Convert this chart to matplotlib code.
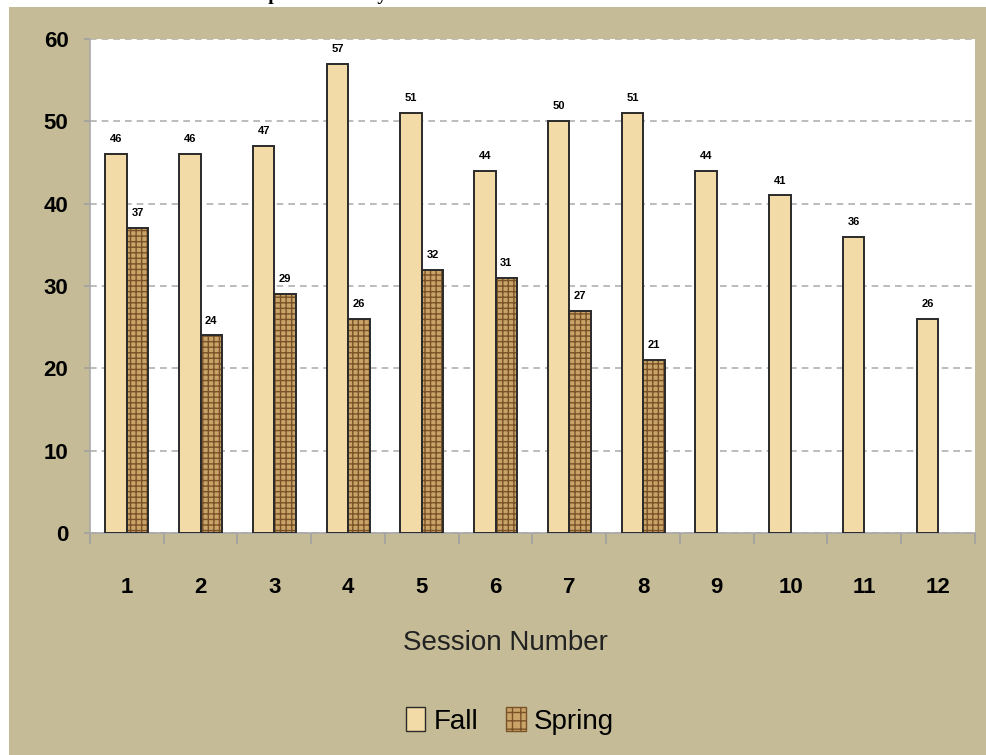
import matplotlib.pyplot as plt
import numpy as np
from matplotlib.patches import Rectangle, Patch

# Data
sessions = ['1', '2', '3', '4', '5', '6', '7', '8', '9', '10', '11', '12']
fall = [46, 46, 47, 57, 51, 44, 50, 51, 44, 41, 36, 26]
spring = [37, 24, 29, 26, 32, 31, 27, 21]

bg = '#c5bc97'
fall_color = '#f2dba6'
spring_color = '#c9a468'
font = ['Liberation Sans Narrow', 'Liberation Sans', 'DejaVu Sans']

fig = plt.figure(figsize=(9.87, 7.55), dpi=100)
fig.patch.set_facecolor('white')
fig.patches.append(Rectangle((9 / 987, 0), 1, 1 - 7 / 755, transform=fig.transFigure,
                             facecolor=bg, edgecolor='none', zorder=0))

# cut-off slide title
fig.text(168 / 987, 1 - 0.5 / 755, "Attendance per Session by Term", fontsize=14,
         fontweight='bold', family='Liberation Serif', va='baseline', ha='left')

ax = fig.add_axes([90 / 987, 1 - 533 / 755, 885 / 987, 494 / 755])
ax.set_zorder(2)
ax.set_facecolor('white')

x = np.arange(len(sessions))
w = 0.29
xs = x[:len(spring)]

ax.bar(x - w / 2, fall, w, color=fall_color, edgecolor='#2a2a2a', linewidth=1.4, zorder=3)
ax.bar(xs + w / 2, spring, w, color=spring_color, edgecolor='#7a5228', hatch='+++',
       linewidth=0, zorder=3)
ax.bar(xs + w / 2, spring, w, color='none', edgecolor='#2a2a2a', linewidth=1.4, zorder=4)

# value labels
for xi, v in zip(x, fall):
    ax.text(xi - w / 2, v + 1.2, str(v), ha='center', va='bottom', fontsize=8,
            fontweight='bold', family=font)
for xi, v in zip(xs, spring):
    ax.text(xi + w / 2, v + 1.2, str(v), ha='center', va='bottom', fontsize=8,
            fontweight='bold', family=font)

ax.set_xlim(-0.5, len(sessions) - 0.5)
ax.set_ylim(0, 60)
ax.set_yticks(range(0, 61, 10))
ax.yaxis.grid(True, linestyle=(0, (4, 3)), color='#b0b0b0', linewidth=1.2, zorder=0)
ax.set_axisbelow(True)

ax.set_xticks(x)
ax.set_xticklabels(sessions)
ax.set_xticks(np.arange(-0.5, len(sessions), 1), minor=True)
ax.tick_params(axis='x', which='major', length=0, pad=32)
ax.tick_params(axis='x', which='minor', length=8, color='#a0a0a0', width=1.2)
ax.tick_params(axis='y', length=4.5, color='#a0a0a0', width=1.2, pad=11)
for lab in ax.get_xticklabels() + ax.get_yticklabels():
    lab.set_fontweight('bold')
    lab.set_family(font)
    lab.set_fontsize(16)

for s in ['top', 'right']:
    ax.spines[s].set_visible(False)
for s in ['left', 'bottom']:
    ax.spines[s].set_color('#a8a8a8')
    ax.spines[s].set_linewidth(1.2)

fig.text(505 / 987, 1 - 643 / 755, "Session Number", ha='center', va='center',
         fontsize=20, family=font, color='#222222')

handles = [Patch(facecolor=fall_color, edgecolor='#2a2a2a'),
           Patch(facecolor=spring_color, edgecolor='#7a5228', hatch='++')]
fig.legend(handles, ['Fall', 'Spring'], loc='center', bbox_to_anchor=(510 / 987, 1 - 721 / 755),
           ncol=2, frameon=False, prop={'family': font, 'size': 20},
           handlelength=0.7, handleheight=0.9, handletextpad=0.3, columnspacing=1.0)

fig.savefig('out.png', dpi=100, facecolor=fig.get_facecolor())
